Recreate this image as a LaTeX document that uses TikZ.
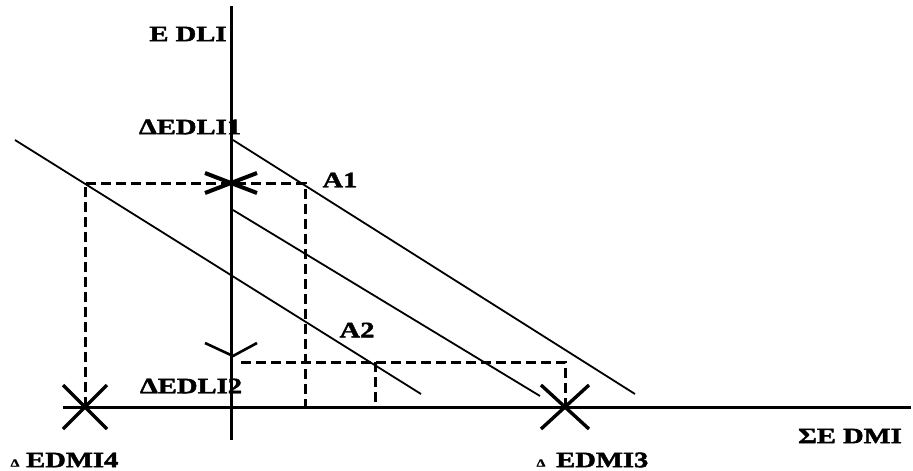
\documentclass[tikz,border=0pt]{standalone}
\usepackage{fontspec}
\newfontfamily\plotfont[FakeStretch=1.3, BoldFeatures={FakeBold=2}]{Liberation Serif}
\usetikzlibrary{calc}

\tikzset{
	axisline/.style={line width=3pt, color=black},
	budgetline/.style={line width=1.8pt, color=black},
	guideline/.style={dashed, dash pattern=on 10pt off 5pt, line width=3pt, color=black},
	crossmark/.style={line width=3.4pt, color=black},
	lbl/.style={inner sep=0pt, font=\plotfont\bfseries\fontsize{22}{24}\selectfont},
	smalldelta/.style={inner sep=0pt, font=\plotfont\bfseries\fontsize{11}{12}\selectfont}
}

\begin{document}
\begin{tikzpicture}[x=1pt, y=-1pt]
		\useasboundingbox (0,0) rectangle (913,471);
		
		%% ═══════════════════════════════
		%%  AXES
		%% ═══════════════════════════════
		\coordinate (O)    at (231,407);
		\coordinate (ytop) at (231,6);
		\coordinate (ybot) at (231,440);
		\coordinate (xbeg) at (63,407);
		\coordinate (xend) at (911,407);
		
		\draw[axisline] (ybot) -- (ytop);
		\draw[axisline] (xbeg) -- (xend);
		
		%% ═══════════════════════════════
		%%  POINTS
		%% ═══════════════════════════════
		\coordinate (e1)  at (231,183);   % EDLI1 level
		\coordinate (e2)  at (233,356);   % EDLI2 level
		\coordinate (a1)  at (305,183);
		\coordinate (a2)  at (375,362);
		\coordinate (m4)  at (85,407);
		\coordinate (m4t) at (85,183);
		\coordinate (m3)  at (565,407);
		\coordinate (m3t) at (565,362);
		\coordinate (a1b) at (305,407);
		\coordinate (a2b) at (375,407);
		\coordinate (h2s) at (241,362);
		
		%% ═══════════════════════════════
		%%  BUDGET LINES
		%% ═══════════════════════════════
		\coordinate (lA) at (15,140);   \coordinate (lB) at (421,394);
		\coordinate (rA) at (233,140);  \coordinate (rB) at (635,394);
		\coordinate (mA) at (233,210);  \coordinate (mB) at (540,396);
		
		\draw[budgetline] (lA) -- (lB);
		\draw[budgetline] (rA) -- (rB);
		\draw[budgetline] (mA) -- (mB);
		
		%% ═══════════════════════════════
		%%  DASHED GUIDES
		%% ═══════════════════════════════
		\draw[guideline] (m4) -- (m4t) -- (a1) -- (a1b);
		\draw[guideline] (h2s) -- (m3t) -- (m3);
		\draw[guideline] (a2) -- (a2b);
		
		%% ═══════════════════════════════
		%%  CROSS MARKS
		%% ═══════════════════════════════
		\draw[crossmark, line width=4pt] ($(e1)+(-26,-10)$) -- ($(e1)+(26,10)$);
		\draw[crossmark, line width=4pt] ($(e1)+(-26,10)$) -- ($(e1)+(26,-10)$);
		
		\draw[crossmark, line width=2.6pt] ($(e2)+(-28,-13)$) -- (e2) -- ($(e2)+(24,-13)$);
		
		\draw[crossmark] ($(m4)+(-22,-22)$) -- ($(m4)+(22,22)$);
		\draw[crossmark] ($(m4)+(-22,22)$) -- ($(m4)+(22,-22)$);
		
		\draw[crossmark] ($(m3)+(-24,-22)$) -- ($(m3)+(24,22)$);
		\draw[crossmark] ($(m3)+(-24,22)$) -- ($(m3)+(24,-22)$);
		
		%% ═══════════════════════════════
		%%  LABELS
		%% ═══════════════════════════════
		\node[lbl] (lblEDLI)  at (188,34)  {E DLI};
		\node[lbl] (lblEDLI1) at (190,127) {ΔEDLI1};
		\node[lbl] (lblA1)    at (340,180) {A1};
		\node[lbl] (lblA2)    at (357,330) {A2};
		\node[lbl] (lblEDLI2) at (191,386) {ΔEDLI2};
		\node[lbl] (lblSEDMI) at (850,436) {ΣE DMI};
		\node[lbl, anchor=west] (lblEDMI4) at (26,460) {EDMI4};
		\node[smalldelta] (dl4) at (15,463) {Δ};
		\node[lbl, anchor=west] (lblEDMI3) at (556,460) {EDMI3};
		\node[smalldelta] (dl3) at (541,463) {Δ};
	\end{tikzpicture}
\end{document}
